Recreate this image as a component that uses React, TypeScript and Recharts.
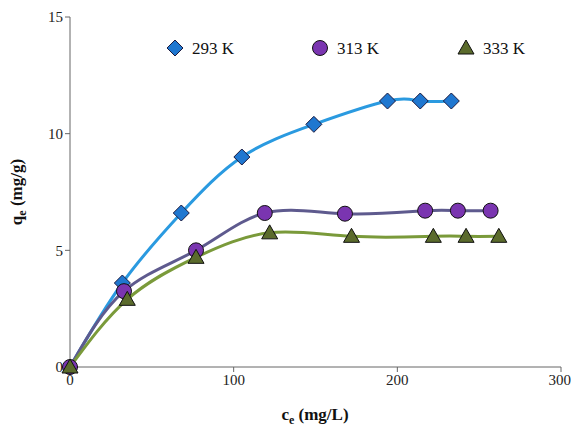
import React from 'react';
import { ComposedChart, Line, XAxis, YAxis, Label } from 'recharts';

const x293 = [0, 32, 68, 105, 149, 194, 214, 233];
const y293 = [0, 3.6, 6.6, 9.0, 10.4, 11.4, 11.4, 11.4];
const x313 = [0, 33, 77, 119, 168, 217, 237, 257];
const y313 = [0, 3.25, 5.0, 6.6, 6.57, 6.7, 6.7, 6.7];
const x333 = [0, 35, 77, 122, 172, 222, 242, 262];
const y333 = [0, 2.9, 4.7, 5.75, 5.6, 5.6, 5.6, 5.6];
const xTicks = [0, 100, 200, 300];
const yTicks = [0, 5, 10, 15];

const zip = (xs: number[], ys: number[]) => xs.map((x, i) => ({ x, y: ys[i] }));

const FONT = 'Liberation Serif, Times New Roman, DejaVu Serif, serif';
const fs = { fontFamily: FONT } as React.CSSProperties;

const Diamond = ({ cx, cy }: any) => (
  <path d={`M${cx},${cy - 8}L${cx + 8},${cy}L${cx},${cy + 8}L${cx - 8},${cy}Z`} fill="#1f77d0" stroke="#1a1a40" strokeWidth={1} />
);
const Circle = ({ cx, cy }: any) => <circle cx={cx} cy={cy} r={7.5} fill="#7a35b0" stroke="#111" strokeWidth={1} />;
const Tri = ({ cx, cy }: any) => (
  <path d={`M${cx},${cy - 8}L${cx + 8},${cy + 6}L${cx - 8},${cy + 6}Z`} fill="#5b6b2c" stroke="#111" strokeWidth={1} />
);

const series = [
  { name: '293 K', data: zip(x293, y293), stroke: '#2a9ae0', Shape: Diamond },
  { name: '313 K', data: zip(x313, y313), stroke: '#5e5a8e', Shape: Circle },
  { name: '333 K', data: zip(x333, y333), stroke: '#7a9a3a', Shape: Tri },
];

const legendX = [175, 320, 466];

export default function App() {
  return (
    <div style={{ position: 'absolute', left: 0, top: 0, width: 571, height: 433, background: '#fff', fontFamily: FONT }}>
      <ComposedChart width={571} height={433} margin={{ top: 17, right: 10, bottom: 36, left: 20 }} style={fs}>
        <XAxis
          type="number"
          dataKey="x"
          domain={[0, 300]}
          ticks={xTicks}
          height={30}
          tick={{ style: fs, fontSize: 15, fill: '#222' }}
          tickLine={{ stroke: '#666' }}
          tickSize={5}
          axisLine={{ stroke: '#666' }}
          allowDuplicatedCategory={false}
        >
          <Label
            content={() => (
              <text x={315} y={420} textAnchor="middle" style={fs} fontSize={17} fontWeight="bold" fill="#111">
                c<tspan fontSize={12} dy={4}>e</tspan>
                <tspan dy={-4}> (mg/L)</tspan>
              </text>
            )}
          />
        </XAxis>
        <YAxis
          type="number"
          domain={[0, 15]}
          ticks={yTicks}
          width={50}
          tick={{ style: fs, fontSize: 15, fill: '#222' }}
          tickLine={{ stroke: '#666' }}
          tickSize={5}
          axisLine={{ stroke: '#666' }}
        >
          <Label
            content={() => (
              <text
                x={22}
                y={192}
                transform="rotate(-90 22 192)"
                textAnchor="middle"
                style={fs}
                fontSize={17}
                fontWeight="bold"
                fill="#111"
              >
                q<tspan fontSize={12} dy={4}>e</tspan>
                <tspan dy={-4}> (mg/g)</tspan>
              </text>
            )}
          />
        </YAxis>
        {series.map((s) => (
          <Line
            key={s.name}
            data={s.data}
            dataKey="y"
            name={s.name}
            type="natural"
            stroke={s.stroke}
            strokeWidth={3}
            dot={(p: any) => <s.Shape key={p.index} cx={p.cx} cy={p.cy} />}
            activeDot={false}
            isAnimationActive={false}
          />
        ))}
        {series.map((s, i) => (
          <g key={'lg' + s.name}>
            <s.Shape cx={legendX[i]} cy={48} />
            <text x={legendX[i] + 17} y={54} style={fs} fontSize={17} fill="#111">
              {s.name}
            </text>
          </g>
        ))}
      </ComposedChart>
    </div>
  );
}
